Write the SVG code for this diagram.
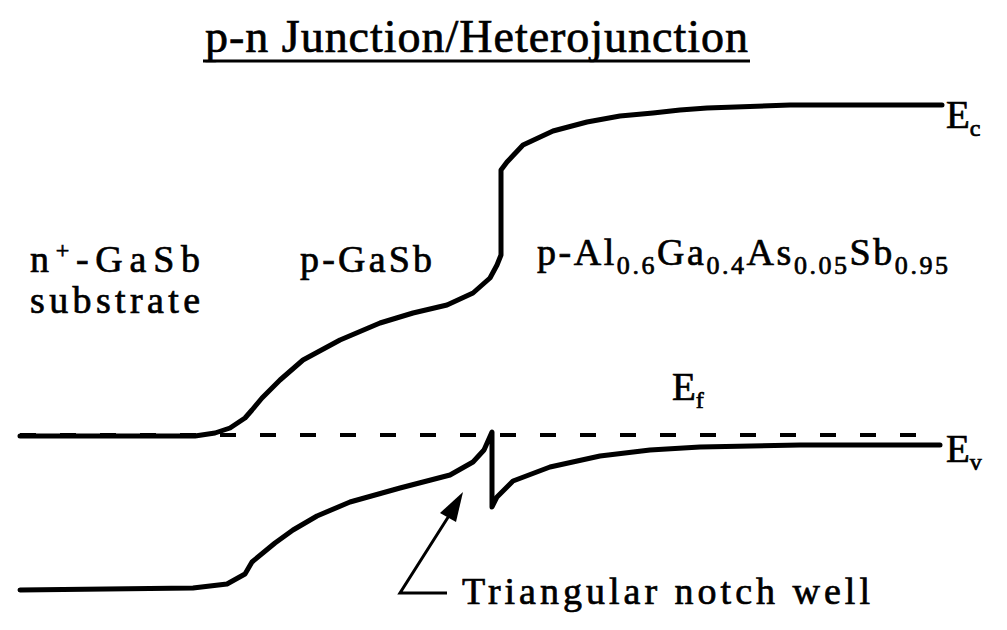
<svg xmlns="http://www.w3.org/2000/svg" width="1007" height="630" viewBox="0 0 1007 630">
<style>
text{font-family:'Liberation Serif','DejaVu Serif',serif;fill:#000;stroke:#000;stroke-width:0.7}
.lbl{font-size:38px}
.band{fill:none;stroke:#000;stroke-width:5;stroke-linejoin:round;stroke-linecap:round}
.ef{fill:none;stroke:#000;stroke-width:4;stroke-dasharray:16 24}
.arr{fill:none;stroke:#000;stroke-width:3}
</style>
<rect width="1007" height="630" fill="#fff"/>
<g id="title">
<text x="205" y="52" font-size="46" textLength="543" lengthAdjust="spacing">p-n Junction/Heterojunction</text>
<line x1="203" y1="61" x2="750" y2="61" stroke="#000" stroke-width="3"/>
</g>
<g id="connectors">
<path id="Ec" class="band" d="M20,436 L195,436 L215,433 L230,428 L245,418 L252,410 L262,398 L280,380 L303,360 L340,340 L380,323 L413,313 L447,305 L473,293 L490,278 L497,265 L501,255 L501,170 L507,162 L523,145 L553,131 L587,122 L620,116 L653,113 L680,110 L707,108 L790,105 L942,105"/>
<path id="Efline" class="ef" d="M20,435 L940,435"/>
<path id="Ev" class="band" d="M20,590 L193,588 L227,584 L245,574 L252,562 L275,543 L293,530 L317,516 L350,502 L400,488 L450,475 L473,462 L484,450 L492,432 L492,507 L497,497 L513,481 L550,467 L600,456 L650,450 L700,447 L800,445 L940,445"/>
<path class="arr" d="M447,593 L400,593 L452,511"/>
<polygon points="463,492 456,522 440,513" fill="#000"/>
</g>
<g id="lbl-n"><text class="lbl" x="30" y="272" textLength="170" lengthAdjust="spacing">n<tspan font-size="24" dy="-14">+</tspan><tspan dy="14">-GaSb</tspan></text>
<text class="lbl" x="30" y="313" textLength="170" lengthAdjust="spacing">substrate</text></g>
<g id="lbl-p"><text class="lbl" x="300" y="272" textLength="132" lengthAdjust="spacing">p-GaSb</text></g>
<g id="lbl-al"><text class="lbl" x="537" y="265" textLength="411" lengthAdjust="spacing">p-Al<tspan font-size="26" dy="9">0.6</tspan><tspan dy="-9">Ga</tspan><tspan font-size="26" dy="9">0.4</tspan><tspan dy="-9">As</tspan><tspan font-size="26" dy="9">0.05</tspan><tspan dy="-9">Sb</tspan><tspan font-size="26" dy="9">0.95</tspan></text></g>
<g id="lbl-ec"><text x="946" y="128" font-size="39">E<tspan font-size="24" dy="8">c</tspan></text></g>
<g id="lbl-ef"><text x="672" y="400" font-size="39">E<tspan font-size="24" dy="8">f</tspan></text></g>
<g id="lbl-ev"><text x="946" y="462" font-size="39">E<tspan font-size="24" dy="8">v</tspan></text></g>
<g id="lbl-notch"><text class="lbl" x="462" y="604" textLength="408" lengthAdjust="spacing">Triangular notch well</text></g>
</svg>
